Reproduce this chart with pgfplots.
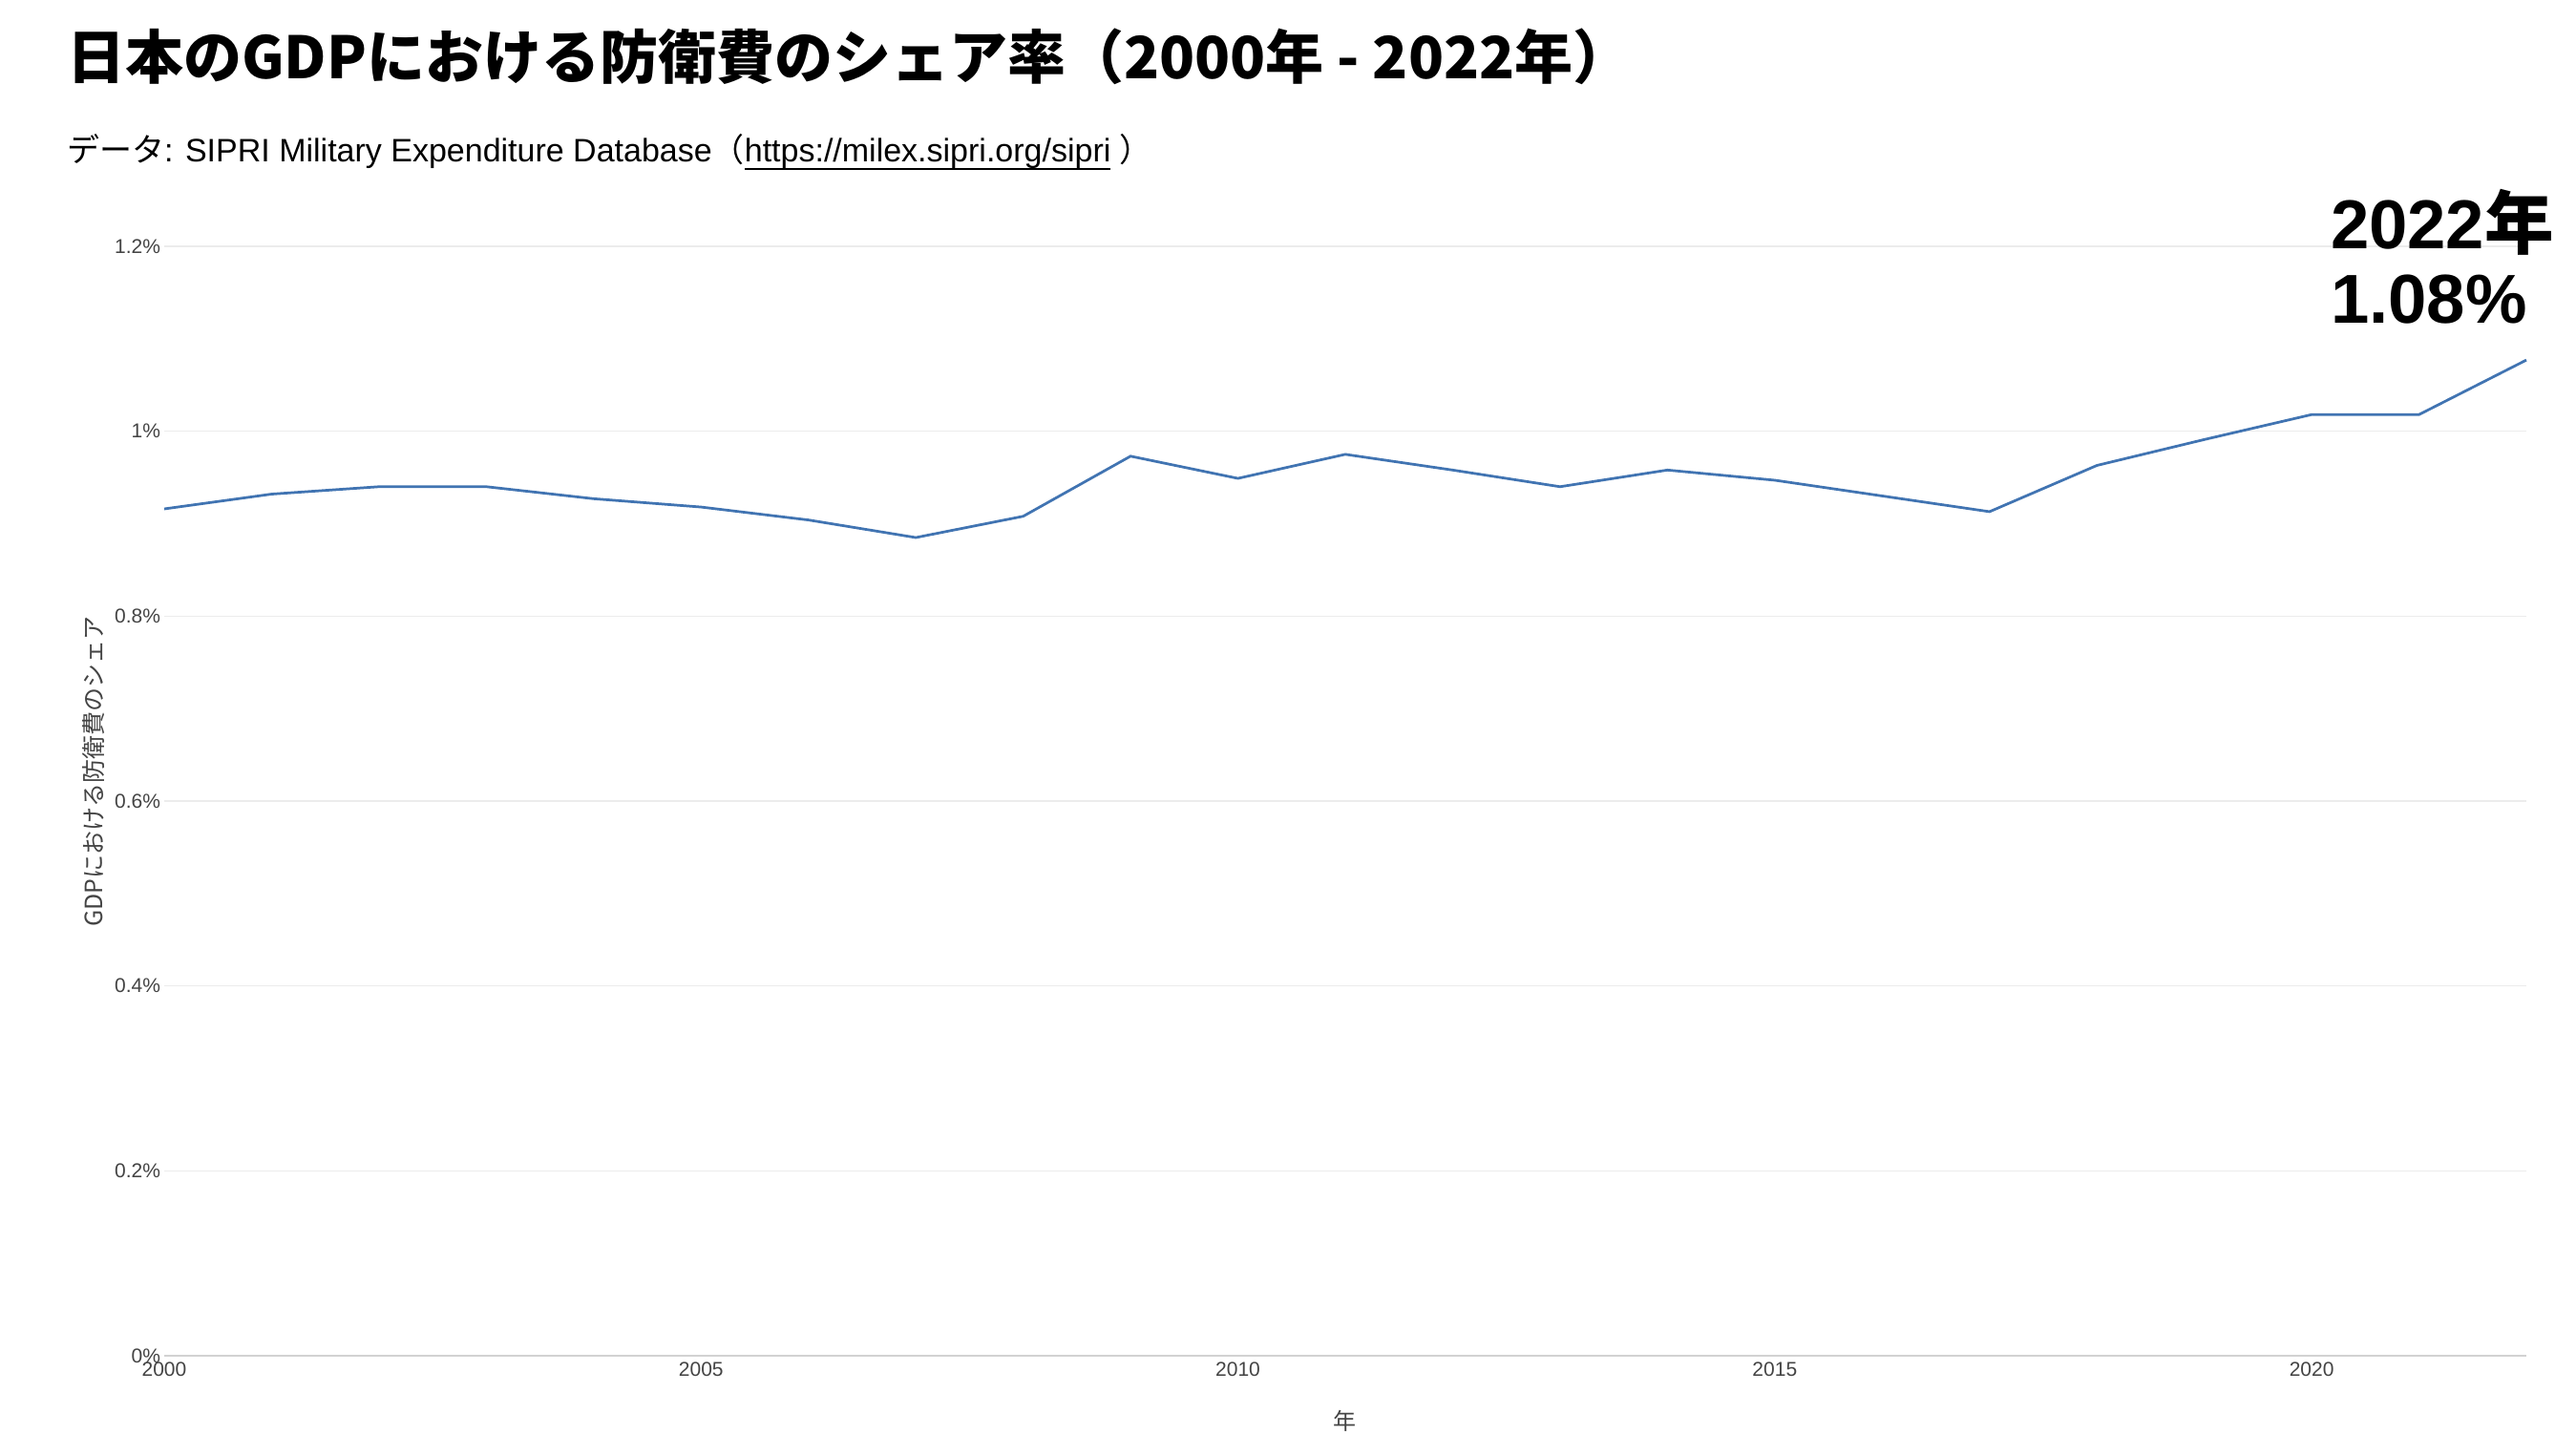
\documentclass[border=0pt]{standalone}
\usepackage{fontspec}
\setmainfont{Liberation Sans}
\newfontfamily\cjk{Noto Sans CJK JP}
\usepackage{pgfplots}
\pgfplotsset{compat=1.18}
\definecolor{lineblue}{RGB}{65,116,178}
\definecolor{gridc}{RGB}{236,236,236}
\definecolor{zeroc}{RGB}{210,210,210}
\definecolor{tickc}{RGB}{68,68,68}
\begin{document}
\begin{tikzpicture}
\useasboundingbox[fill=white] (0,0) rectangle (539.6pt,300.4pt);
\begin{axis}[
 at={(34.4pt,16.4pt)}, anchor=south west,
 scale only axis, width=494.8pt, height=232.4pt,
 xmin=2000, xmax=2022, ymin=0, ymax=1.2,
 axis line style={draw=none},
 major tick length=0pt,
 xtick={2000,2005,2010,2015,2020},
 xticklabels={2000,2005,2010,2015,2020},
 ytick={0.2,0.4,0.6,0.8,1,1.2},
 yticklabels={0.2\%,0.4\%,0.6\%,0.8\%,1\%,1.2\%},
 extra y ticks={0}, extra y tick labels={0\%},
 extra y tick style={grid=major, major grid style={draw=zeroc, line width=0.5pt}},
 ymajorgrids, major grid style={draw=gridc, line width=0.3pt},
 tick label style={font=\fontsize{4.2}{5}\selectfont, text=tickc},
 yticklabel style={inner sep=0pt, xshift=-0.6pt},
 xticklabel style={inner sep=0pt, yshift=-1.2pt},
 /pgf/number format/assume math mode=true,
 clip=false,
]
\addplot[draw=lineblue, line width=0.55pt, no markers] coordinates {
(2000,0.916) (2001,0.932) (2002,0.940) (2003,0.940) (2004,0.927)
(2005,0.918) (2006,0.904) (2007,0.885) (2008,0.908) (2009,0.973)
(2010,0.949) (2011,0.975) (2012,0.958) (2013,0.940) (2014,0.958)
(2015,0.947) (2016,0.930) (2017,0.913) (2018,0.963) (2019,0.991)
(2020,1.018) (2021,1.018) (2022,1.077)
};
\end{axis}
\node[anchor=base west, inner sep=0pt, font=\cjk\bfseries\fontsize{12.2}{14}\selectfont] at (13.8pt,283.8pt) {日本のGDPにおける防衛費のシェア率（2000年 - 2022年）};
\node[anchor=base west, inner sep=0pt, font=\fontsize{6.8}{8}\selectfont] at (13.8pt,266.4pt) {{\cjk データ}: SIPRI Military Expenditure Database{\cjk （}\underline{\smash{https://milex.sipri.org/sipri}}\ {\cjk ）}};
\node[rotate=90, inner sep=0pt, font=\cjk\fontsize{5}{6}\selectfont, text=tickc] at (19.6pt,138.8pt) {GDPにおける防衛費のシェア};
\node[inner sep=0pt, font=\cjk\fontsize{4.8}{6}\selectfont, text=tickc] at (281.6pt,2.8pt) {年};
\node[anchor=base west, inner sep=0pt, font=\bfseries\fontsize{14.5}{16}\selectfont] at (488pt,248.2pt) {2022{\cjk\bfseries 年}};
\node[anchor=base west, inner sep=0pt, font=\bfseries\fontsize{14.5}{16}\selectfont] at (488pt,232.8pt) {1.08\%};
\end{tikzpicture}
\end{document}
